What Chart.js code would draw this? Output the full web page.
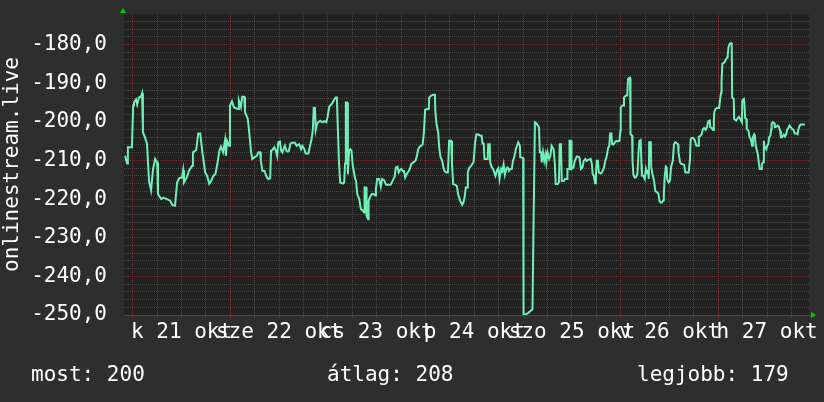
<!DOCTYPE html>
<html><head><meta charset="utf-8">
<script src="https://cdn.jsdelivr.net/npm/chart.js@4/dist/chart.umd.min.js"></script>
<style>html,body{margin:0;padding:0;background:#2e2e2e;overflow:hidden}canvas{display:block}</style>
</head><body><canvas id="c" width="824" height="402"></canvas>
<script>
// time in hours since 21 okt 00:00
const hours = [
-1.9,-1.4,-1.2,-0.2,0.1,0.3,0.8,1.1,1.5,2.0,
2.3,2.5,3.0,3.5,4.0,4.5,5.0,5.5,6.0,6.2,
7.0,7.5,8.4,9.2,9.7,10.4,10.9,11.4,12.1,12.4,
12.6,13.3,13.8,14.6,14.8,15.6,16.1,16.6,17.1,17.8,
18.3,18.8,19.3,19.8,20.3,20.8,21.3,21.7,22.2,22.7,
22.9,23.2,23.7,23.9,24.4,24.9,25.6,25.9,26.1,26.6,
26.9,27.4,27.6,28.3,28.6,29.1,29.4,29.9,30.5,30.9,
31.3,31.5,31.9,32.4,32.7,33.0,33.3,33.8,34.0,34.3,
34.8,35.2,35.5,35.8,36.2,36.5,36.8,37.1,37.4,37.8,
38.1,38.4,38.8,39.2,39.9,40.3,40.9,41.4,41.7,42.2,
42.5,43.2,43.6,44.0,44.3,44.5,44.8,45.0,45.3,45.6,
46.1,46.6,47.1,47.6,47.9,48.3,48.8,49.1,49.4,49.9,
50.2,50.4,50.7,51.0,51.7,52.0,52.2,52.4,52.7,52.9,
53.2,53.5,53.8,54.1,54.7,54.9,55.2,55.7,56.1,56.6,
56.9,57.0,57.4,57.5,57.9,58.0,58.3,58.8,59.2,59.6,
59.8,60.1,60.6,61.0,61.3,61.8,62.3,62.9,63.4,63.9,
64.4,64.7,65.1,65.4,65.7,66.0,66.4,66.7,67.0,67.4,
67.9,68.2,68.5,69.0,69.5,69.8,70.2,70.6,71.0,71.3,
71.6,71.9,72.4,72.8,72.9,73.4,73.9,74.3,74.4,74.7,
75.1,75.4,75.7,76.1,76.4,76.7,77.2,77.5,77.8,78.3,
78.5,78.8,79.3,79.7,80.0,80.5,81.0,81.3,81.6,81.9,
82.2,82.4,82.7,83.2,83.5,83.8,84.0,84.2,84.5,85.0,
85.5,85.8,86.0,86.3,86.5,87.3,87.4,87.8,87.9,88.3,
88.6,88.9,89.2,89.6,89.9,90.2,90.6,90.9,91.2,91.5,
91.9,92.2,92.5,92.8,93.2,93.5,93.8,94.2,94.5,94.8,
95.2,95.3,96.0,96.1,96.3,97.2,98.3,98.5,98.9,99.3,
99.9,100.1,100.4,100.6,100.9,101.2,101.5,101.7,102.0,102.4,
102.7,103.0,103.5,103.8,104.0,104.5,104.8,105.0,105.3,105.5,
106.0,106.3,106.8,106.9,107.3,107.4,107.8,107.9,108.4,108.7,
109.2,109.6,109.9,110.2,110.6,110.9,111.3,111.6,111.9,112.6,
112.9,113.1,113.4,113.7,113.9,114.1,114.4,114.6,115.1,115.4,
115.9,116.2,116.5,116.9,117.2,117.4,117.7,117.9,118.2,118.6,
118.9,119.2,119.7,119.9,120.0,120.4,120.7,120.8,121.3,121.6,
121.8,122.1,122.3,122.4,122.8,122.9,123.1,123.4,123.7,124.1,
124.4,124.6,124.9,125.1,125.2,125.5,125.9,126.2,126.4,126.7,
126.9,127.0,127.4,127.5,127.8,128.2,128.5,129.0,129.3,129.5,
129.8,130.1,130.5,130.6,130.8,131.1,131.3,131.4,131.8,132.1,
132.4,132.8,133.1,133.4,134.1,134.2,134.6,134.9,135.6,135.9,
136.7,137.0,137.2,137.5,137.8,138.2,138.6,139.1,139.2,139.6,
139.9,140.2,140.5,140.9,141.2,141.5,141.9,142.0,142.4,142.7,
142.9,143.0,143.3,143.7,144.2,144.5,144.7,144.8,145.0,145.5,
145.8,146.2,146.3,146.5,146.8,147.2,147.3,147.4,147.8,147.9,
148.4,148.8,149.1,149.4,149.8,149.9,150.3,150.4,150.6,150.9,
151.0,151.4,151.7,152.0,152.3,152.5,152.8,153.0,153.2,153.5,
153.7,154.0,154.2,154.5,154.7,155.0,155.2,155.3,155.5,155.8,
156.0,156.3,156.5,156.8,157.0,157.1,157.4,157.8,157.9,158.2,
158.6,158.9,159.2,159.4,159.7,160.1,160.4,160.7,160.9,161.2,
161.5,161.8,162.2,162.5,162.8,163.1,163.5,163.7,164.0,164.3,
165.3
];
const values = [
-208.8,-210.8,-206.6,-206.6,-195.8,-195.0,-194.2,-195.5,-193.7,-193.5,
-192.6,-202.7,-204.0,-205.7,-215.3,-217.7,-212.2,-209.6,-210.5,-218.7,
-220.0,-219.6,-220.0,-220.4,-221.5,-221.7,-215.7,-214.6,-214.4,-212.5,
-215.7,-214.4,-212.7,-211.4,-207.9,-207.3,-203.0,-203.0,-207.7,-213.1,
-214.0,-216.0,-215.3,-214.0,-213.6,-211.0,-207.5,-206.4,-207.9,-204.7,
-208.8,-204.9,-206.2,-195.8,-194.7,-196.3,-196.6,-196.7,-194.5,-196.2,
-193.5,-193.5,-197.5,-199.3,-202.3,-207.9,-209.6,-209.2,-208.8,-207.9,
-207.9,-210.1,-212.7,-212.7,-213.6,-214.4,-214.8,-214.6,-207.5,-207.3,
-206.6,-207.5,-208.8,-205.3,-205.1,-207.5,-207.9,-207.0,-206.2,-207.5,
-207.7,-207.5,-205.6,-205.4,-205.4,-206.2,-205.8,-207.1,-206.2,-207.1,
-208.2,-208.2,-206.2,-204.4,-201.9,-196.4,-196.4,-202.1,-200.6,-200.1,
-199.7,-200.1,-199.8,-200.1,-198.8,-196.1,-195.5,-195.2,-194.5,-193.7,
-193.7,-200.6,-210.1,-215.7,-216.0,-215.7,-210.8,-195.0,-195.0,-213.6,
-207.5,-207.1,-207.5,-211.4,-214.8,-215.3,-218.7,-220.0,-222.6,-223.0,
-223.5,-217.0,-217.0,-224.3,-225.2,-220.4,-219.6,-218.7,-218.7,-219.1,
-217.4,-214.8,-214.8,-216.8,-214.8,-215.1,-216.3,-216.3,-216.3,-215.3,
-214.2,-211.8,-211.6,-213.1,-212.5,-212.2,-212.7,-212.7,-214.4,-213.5,
-212.7,-212.0,-210.9,-210.5,-210.1,-209.2,-207.1,-206.4,-206.2,-205.8,
-202.7,-196.9,-196.7,-196.7,-193.7,-193.2,-193.0,-193.0,-197.1,-200.6,
-202.7,-207.1,-209.2,-210.1,-211.8,-212.8,-213.1,-213.1,-204.9,-204.9,
-210.9,-216.1,-216.3,-216.6,-218.7,-220.4,-221.5,-220.9,-219.6,-217.0,
-217.0,-213.1,-212.0,-211.4,-210.9,-210.5,-207.9,-205.3,-203.3,-203.3,
-203.6,-203.6,-205.6,-205.6,-209.6,-209.6,-205.8,-205.8,-210.5,-211.8,
-212.2,-213.1,-214.0,-212.5,-212.0,-214.8,-212.2,-212.8,-211.1,-213.7,
-212.0,-211.8,-212.7,-212.2,-212.2,-210.1,-209.2,-207.1,-206.2,-205.3,
-206.2,-209.2,-209.4,-250.0,-250.0,-249.5,-248.5,-231.3,-200.1,-200.4,
-201.4,-207.9,-207.9,-210.5,-207.9,-210.1,-208.5,-210.5,-207.9,-209.6,
-208.8,-206.2,-207.1,-210.9,-216.1,-216.1,-215.7,-205.8,-205.8,-215.3,
-215.3,-214.8,-214.8,-212.2,-212.2,-204.9,-204.9,-212.2,-211.8,-210.1,
-209.0,-209.0,-209.4,-212.2,-211.8,-210.1,-209.6,-210.1,-209.9,-209.6,
-210.9,-213.5,-214.0,-215.9,-213.5,-210.1,-210.1,-213.1,-213.4,-213.1,
-211.8,-210.1,-209.2,-206.8,-206.2,-203.0,-203.0,-205.8,-205.9,-205.3,
-204.9,-205.1,-204.9,-202.3,-196.3,-195.8,-195.8,-193.7,-193.2,-193.2,
-188.9,-188.6,-188.6,-203.2,-203.6,-210.1,-213.5,-214.4,-214.4,-213.5,
-207.5,-204.9,-204.7,-210.9,-213.9,-213.9,-214.8,-212.2,-213.1,-212.7,
-214.8,-205.3,-205.3,-211.8,-213.5,-215.3,-217.9,-218.3,-218.7,-220.4,
-220.9,-220.9,-220.3,-218.7,-214.4,-211.6,-211.8,-214.8,-215.7,-215.3,
-211.6,-210.1,-205.8,-205.3,-205.8,-207.9,-210.5,-210.9,-211.1,-213.1,
-213.1,-210.1,-204.5,-204.2,-204.2,-204.7,-206.2,-206.2,-203.9,-203.6,
-203.3,-201.9,-201.6,-202.1,-201.4,-199.9,-199.7,-201.4,-201.6,-202.1,
-199.7,-197.5,-196.7,-196.4,-196.4,-193.7,-192.4,-189.3,-185.0,-184.6,
-184.0,-183.3,-182.9,-180.7,-179.8,-179.6,-179.8,-193.7,-194.1,-199.3,
-199.7,-199.0,-198.7,-199.3,-200.1,-194.5,-194.1,-194.9,-199.0,-199.3,
-201.9,-202.3,-204.0,-204.5,-206.2,-204.0,-203.3,-204.0,-206.2,-207.5,
-208.3,-210.9,-212.2,-212.2,-210.9,-210.5,-204.9,-206.2,-206.6,-207.1,
-206.2,-205.8,-204.0,-203.6,-201.9,-200.6,-200.1,-200.4,-201.4,-201.3,
-201.0,-201.3,-202.3,-204.0,-204.0,-203.3,-203.8,-203.2,-202.1,-201.6,
-201.0,-201.4,-201.9,-202.1,-203.0,-203.0,-203.2,-201.9,-201.0,-200.7,
-200.7
];
const dayLabels = ['k 21 okt','sze 22 okt','cs 23 okt','p 24 okt','szo 25 okt','v 26 okt','h 27 okt'];
const xGridHours = [0,6,12,18,24,30,36,42,48,54,60,66,72,78,84,90,96,102,108,114,120,126,132,138,144,150,156,162];
const yGridValues = [-250,-248,-246,-244,-242,-240,-238,-236,-234,-232,-230,-228,-226,-224,-222,-220,-218,-216,-214,-212,-210,-208,-206,-204,-202,-200,-198,-196,-194,-192,-190,-188,-186,-184,-182,-180,-178,-176,-174];
const axisTitle = 'onlinestream.live';
const legendNames = ['most','átlag','legjobb'];
const legendValues = [200, 208, 179];

const FONT = 'DejaVu Sans Mono';
const MAJOR = '#6a3434';
const MINOR = '#4a4a4a';

const deco = {
  id: 'deco',
  beforeDraw(chart) {
    const {ctx, chartArea: a} = chart;
    ctx.save();
    ctx.fillStyle = '#2e2e2e';
    ctx.fillRect(0, 0, chart.width, chart.height);
    ctx.fillStyle = '#222222';
    ctx.fillRect(a.left, a.top, a.right - a.left, a.bottom - a.top);
    ctx.restore();
  },
  afterDraw(chart) {
    const {ctx, chartArea: a} = chart;
    ctx.save();
    ctx.fillStyle = '#00d000';
    ctx.beginPath();
    ctx.moveTo(a.left - 3, a.top - 1); ctx.lineTo(a.left + 3, a.top - 1); ctx.lineTo(a.left, a.top - 6);
    ctx.closePath(); ctx.fill();
    ctx.beginPath();
    ctx.moveTo(a.right + 2, a.bottom - 3); ctx.lineTo(a.right + 2, a.bottom + 3); ctx.lineTo(a.right + 7, a.bottom);
    ctx.closePath(); ctx.fill();
    ctx.fillStyle = '#ffffff';
    ctx.font = '21px "' + FONT + '"';
    ctx.textBaseline = 'alphabetic';
    ctx.textAlign = 'left';
    const xs = [31, 327, 637];
    legendNames.forEach((n, i) => ctx.fillText(n + ': ' + legendValues[i], xs[i], 381));
    ctx.restore();
  }
};

new Chart(document.getElementById('c'), {
  type: 'line',
  data: {
    datasets: [{
      data: hours.map((h, i) => ({x: h, y: values[i]})),
      borderColor: '#6ef0b6',
      borderWidth: 2,
      pointRadius: 0,
      tension: 0,
      fill: false
    }]
  },
  options: {
    responsive: false,
    animation: false,
    devicePixelRatio: 1,
    layout: {padding: {top: 14, right: 15, bottom: 47, left: 0}},
    plugins: {legend: {display: false}, tooltip: {enabled: false}},
    scales: {
      x: {
        type: 'linear', min: -2.4, max: 166.3,
        afterBuildTicks: s => { s.ticks = xGridHours.map(v => ({value: v})); },
        afterFit: s => { s.height = 40; s.paddingLeft = 0; s.paddingRight = 0; },
        grid: {
          color: c => (c.tick && c.tick.value % 24 === 0) ? MAJOR : MINOR,
          tickColor: c => (c.tick && c.tick.value % 24 === 0) ? MAJOR : MINOR,
          drawTicks: true, tickLength: 3, lineWidth: 1
        },
        border: {display: true, color: '#4a4a4a', dash: [1, 1]},
        ticks: {
          autoSkip: false, maxRotation: 0, minRotation: 0, padding: 2,
          color: '#ffffff', font: {family: FONT, size: 21},
          callback: v => { const h = Math.round(v); return ((h - 12) % 24 === 0) ? dayLabels[(h - 12) / 24] : ''; }
        }
      },
      y: {
        min: -250, max: -172.1,
        afterBuildTicks: s => { s.ticks = yGridValues.map(v => ({value: v})); },
        afterFit: s => { s.width = 123; s.paddingTop = 0; s.paddingBottom = 0; },
        grid: {
          color: c => (c.tick && c.tick.value % 10 === 0) ? MAJOR : MINOR,
          drawTicks: false, lineWidth: 1
        },
        border: {display: true, color: '#2a2a2a', dash: [1, 1]},
        ticks: {
          autoSkip: false, padding: 16, color: '#ffffff', font: {family: FONT, size: 21},
          callback: v => (v % 10 === 0) ? v.toFixed(1).replace('.', ',') : ''
        },
        title: {display: true, text: axisTitle, color: '#ffffff', font: {family: FONT, size: 21}, padding: {top: 0, bottom: 0}}
      }
    }
  },
  plugins: [deco]
});
</script>
</body></html>
